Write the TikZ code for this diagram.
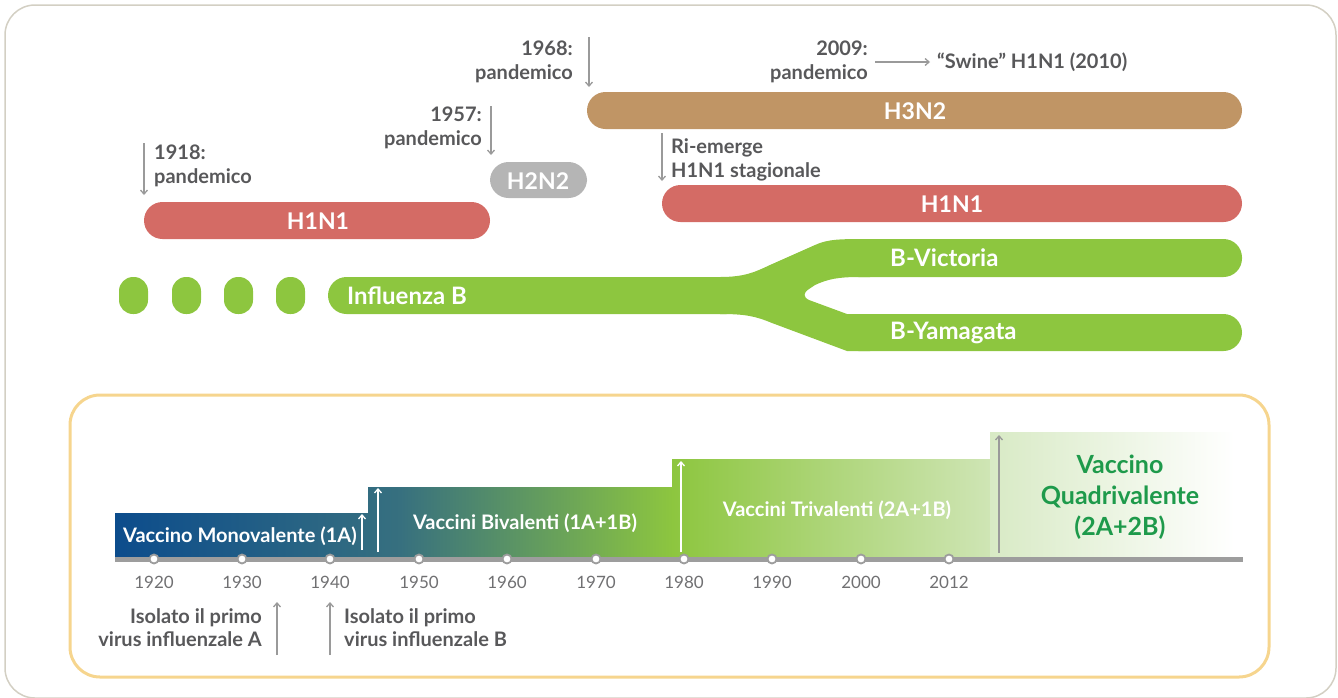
\documentclass[tikz,border=0pt]{standalone}
\usepackage{fontspec}
\setmainfont{Lato}
\usetikzlibrary{arrows.meta}
\definecolor{frameC}{HTML}{D3CFC3}
\definecolor{boxC}{HTML}{F6D58E}
\definecolor{redC}{HTML}{D46B65}
\definecolor{greyC}{HTML}{B5B5B5}
\definecolor{tanC}{HTML}{C09565}
\definecolor{greenC}{HTML}{8DC63F}
\definecolor{txtC}{HTML}{58585A}
\definecolor{yrC}{HTML}{707072}
\definecolor{arrC}{HTML}{9A9A9A}
\definecolor{axisC}{HTML}{9D9D9D}
\definecolor{qgreen}{HTML}{1E9A4B}
\definecolor{vblue}{HTML}{0C4C8C}
\definecolor{vteal}{HTML}{37707F}
\definecolor{vlight}{HTML}{CFE5B5}
\definecolor{vlight2}{HTML}{D8EAC5}
\begin{document}
\begin{tikzpicture}[x=1pt,y=-1pt,
  bar/.style={rounded corners=18.5pt},
  bartxt/.style={text=white,font=\fontsize{23}{27}\selectfont\bfseries,inner sep=0pt},
  btxt/.style={text=white,font=\fontsize{24}{28}\selectfont\bfseries,inner sep=0pt,anchor=west},
  note/.style={text=txtC,font=\fontsize{20}{24}\selectfont\bfseries,inner sep=0pt},
  ptr/.style={draw=arrC,line width=1.3pt,-{Straight Barb[length=4pt,width=7pt]}},
  wptr/.style={draw=white,line width=1.3pt,-{Straight Barb[length=4pt,width=7pt]}},
  vtxt/.style={text=white,font=\fontsize{20}{24}\selectfont\bfseries,inner sep=0pt},
  yr/.style={text=yrC,font=\fontsize{17}{20}\selectfont,inner sep=0pt},
  tick/.style={circle,draw=axisC,fill=white,line width=1.8pt,minimum size=9pt,inner sep=0pt}
]
\useasboundingbox (0,0) rectangle (1338,697);
% outer frame
\draw[frameC,line width=1.5pt,rounded corners=30pt] (5,5) rectangle (1336,698);
% bottom box
\draw[boxC,line width=3pt,rounded corners=30pt] (70,395) rectangle (1269,677);

% ---- subtype bars ----
\fill[redC,bar] (144,202) rectangle (490,239);
\node[bartxt] (h1n1a) at (318,221) {H1N1};
\fill[greyC,bar] (490,162) rectangle (587,198);
\node[bartxt] (h2n2) at (538,181) {H2N2};
\fill[tanC,bar] (587,92) rectangle (1242,129);
\node[bartxt] (h3n2) at (915,111) {H3N2};
\fill[redC,bar] (662,185) rectangle (1242,222);
\node[bartxt] (h1n1b) at (952,204) {H1N1};

% ---- influenza B ----
\foreach \xx in {119,172,224,276}
  \fill[greenC,rounded corners=14pt] (\xx,277) rectangle ++(29,37);
\fill[greenC,bar] (328,277) rectangle (745,314);
\fill[greenC,bar] (840,239) rectangle (1242,277);
\fill[greenC,bar] (840,314) rectangle (1242,351);
\fill[greenC] (720,277) .. controls (745,277) and (755,272) .. (770,265)
  -- (815,245) .. controls (828,239) and (840,239) .. (870,239)
  -- (870,277) -- (860,277) .. controls (838,277) and (828,279) .. (815,285)
  -- (809,289) .. controls (803,293) and (803,297) .. (809,300)
  -- (847,314) -- (870,314) -- (870,351) -- (847,351)
  -- (772,323) .. controls (755,316) and (745,314) .. (720,314) -- cycle;
\node[btxt] (infb) at (347,296) {Influenza B};
\node[btxt] (bvic) at (890,258) {B-Victoria};
\node[btxt] (byam) at (890,333) {B-Yamagata};

% ---- notes ----
\node[note,align=left,anchor=north west] (n1918) at (154,145) {1918:\\pandemico};
\coordinate (a1918s) at (144,143); \coordinate (a1918e) at (144,195);
\draw[ptr] (a1918s) -- (a1918e);
\node[note,align=right,anchor=north east] (n1957) at (482,107) {1957:\\pandemico};
\coordinate (a1957s) at (491,106); \coordinate (a1957e) at (491,155);
\draw[ptr] (a1957s) -- (a1957e);
\node[note,align=right,anchor=north east] (n1968) at (573,41) {1968:\\pandemico};
\coordinate (a1968s) at (589,37); \coordinate (a1968e) at (589,87);
\draw[ptr] (a1968s) -- (a1968e);
\node[note,align=right,anchor=north east] (n2009) at (868,41) {2009:\\pandemico};
\node[note,anchor=west] (swine) at (937,62) {“Swine” H1N1 (2010)};
\coordinate (sws) at (875,62); \coordinate (swe) at (930,62);
\draw[ptr] (sws) -- (swe);
\node[note,align=left,anchor=north west] (rie) at (671,138) {Ri-emerge\\H1N1 stagionale};
\coordinate (aries) at (662,133); \coordinate (ariee) at (662,181);
\draw[ptr] (aries) -- (ariee);

% ---- vaccine staircase ----
\begin{scope}
\clip (115,513) -- (368,513) -- (368,487) -- (672,487) -- (672,459)
  -- (990,459) -- (990,432) -- (1235,432) -- (1235,559) -- (115,559) -- cycle;
\shade[left color=vblue,right color=vteal] (115,420) rectangle (401,570);
\shade[left color=vteal,right color=greenC] (400,420) rectangle (673,570);
\shade[left color=greenC,right color=vlight] (672,420) rectangle (991,570);
\shade[left color=vlight2,right color=white] (990,420) rectangle (1235,570);
\end{scope}
\node[vtxt,anchor=west] (mono) at (123,536) {Vaccino Monovalente (1A)};
\node[vtxt] (biv) at (525,523) {Vaccini Bivalenti (1A+1B)};
\node[vtxt] (triv) at (837,510) {Vaccini Trivalenti (2A+1B)};
\node[text=qgreen,font=\fontsize{25}{31}\selectfont\bfseries,align=center,inner sep=0pt] (quad) at (1120,497) {Vaccino\\Quadrivalente\\(2A+2B)};
\draw[wptr] (362,550) -- (362,514);
\draw[wptr] (378,552) -- (378,488);
\draw[wptr] (681,552) -- (681,461);
\draw[ptr] (999,553) -- (999,435);

% ---- axis ----
\draw[axisC,line width=5pt] (115,559) -- (1243,559);
\foreach \xx/\yy [count=\i] in {154/1920,242/1930,330/1940,419/1950,507/1960,596/1970,684/1980,772/1990,861/2000,949/2012}{
  \node[tick] (t\i) at (\xx,559) {};
  \node[yr] (y\i) at (\xx,582) {\yy};
}

% ---- isolation notes ----
\node[note,font=\fontsize{20}{23}\selectfont\bfseries,align=right,anchor=north east] (isa) at (262,608) {Isolato il primo\\virus influenzale A};
\coordinate (isas) at (277,655); \coordinate (isae) at (277,602);
\draw[ptr] (isas) -- (isae);
\node[note,font=\fontsize{20}{23}\selectfont\bfseries,align=left,anchor=north west] (isb) at (344,608) {Isolato il primo\\virus influenzale B};
\coordinate (isbs) at (330,655); \coordinate (isbe) at (330,602);
\draw[ptr] (isbs) -- (isbe);
\end{tikzpicture}
\end{document}
